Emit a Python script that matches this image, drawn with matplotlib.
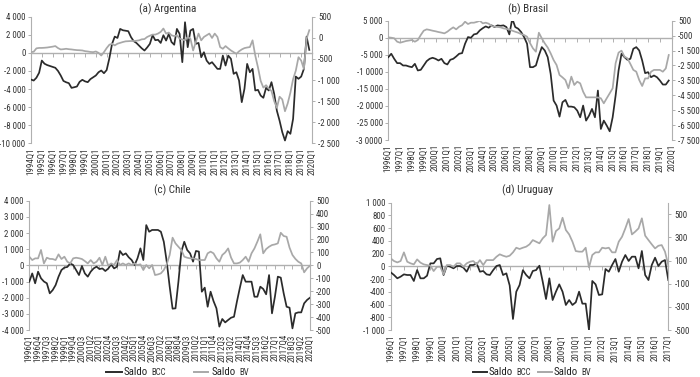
import matplotlib
matplotlib.use("Agg")
import matplotlib.pyplot as plt
from matplotlib import font_manager as fm
from matplotlib.lines import Line2D
from matplotlib.text import Annotation

# ---------------- data ----------------
# (a) Argentina 1994Q1 - 2019Q4
arg_bcc = [-2950, -3060, -2750, -2200, -850, -1200, -1350, -1450, -1550, -1650,
           -2000, -2500, -3100, -3250, -3350, -3870, -3800, -3720, -3200, -2980,
           -3150, -3240, -2900, -2700, -2500, -2140, -1950, -2250, -1900, -600,
           1000, 1800, 1650, 2650, 2500, 2450, 2400, 1750, 1300, 1100,
           800, 500, 260, 600, 1000, 1950, 1400, 1450, 1100, 1950,
           1360, 2100, 1200, 900, 2650, 2100, -1030, 3390, 630, 2470,
           2650, 1000, 1100, -480, 70, -850, -1220, -1030, -1400, -1770,
           -1770, -300, -1400, -300, -660, -2320, -2140, -3060, -5450, -3980,
           -1220, -2140, -1770, -4160, -4090, -4720, -4970, -3870, -4160, -3240,
           -4530, -6400, -7500, -8770, -9690, -8660, -8950, -7300, -2620, -2870,
           -2620, -1770, 1800, 330]
arg_bv = [-340, -330, -250, -240, -240, -236, -230, -220, -210, -196,
          -244, -276, -270, -260, -270, -276, -285, -292, -295, -300,
          -316, -324, -335, -340, -324, -356, -420, -340, -244, -164,
          -140, -180, -140, -120, -100, -84, -80, -76, -76, -70,
          -60, -36, -30, 20, 50, 76, 76, 100, 140, 220,
          100, 124, 60, 40, 60, -20, -40, -60, 20, -20,
          -300, -100, 100, -60, 20, 60, 100, -4, 100, 20,
          -220, -260, -196, -250, -300, -340, -380, -320, -276, -244,
          -230, -220, -60, -420, -700, -1020, -1180, -1124, -1200, -1260,
          -1500, -1660, -1396, -1460, -1740, -1556, -1300, -980, -780, -460,
          -540, -740, -20, 180]

# (b) Brasil 1996Q1 - 2019Q4
bra_bcc = [-5700, -4700, -6180, -7450, -7450, -8140, -8140, -8430, -8630, -7650,
           -9600, -9410, -8140, -6860, -6180, -5880, -6180, -6670, -6180, -7450,
           -7840, -6470, -6180, -5490, -4700, -4510, -1760, 200, 0, 980,
           1180, 2160, 2800, 3330, 2940, 3630, 3140, 3630, 3500, 3630,
           3140, 980, 5590, 3140, 2650, 1670, 200, -1760, -8630, -8630,
           -8140, -5200, -2750, -3730, -5690, -10590, -18430, -19900, -23140, -18920,
           -18240, -20200, -20200, -20390, -21370, -23330, -19900, -24310, -22840, -20880,
           -23330, -15490, -26760, -24310, -25780, -27450, -23330, -16960, -9610, -4700,
           -5690, -6470, -6180, -3240, -2750, -3730, -6670, -10390, -10100, -11570,
           -11080, -11570, -12550, -13730, -13730, -12550]
bra_bv = [-617, -640, -680, -908, -975, -920, -863, -830, -796, -908,
          -796, -460, -170, -80, -120, -170, -210, -260, -300, -349,
          -237, -80, 54, -80, 98, 200, 433, 277, 366, 366,
          420, 500, 321, 366, 300, 143, 98, 80, 54, -13,
          -50, -80, -170, -240, -304, -400, -460, -573, -1000, -1355,
          -1579, -305, -685, -1020, -1300, -1690, -2140, -2470, -3140, -3300,
          -3480, -4030, -3250, -3810, -3590, -3700, -4260, -4640, -4640, -4640,
          -4640, -4650, -4700, -5040, -4700, -4370, -4030, -2350, -1640, -1510,
          -1910, -2020, -2400, -2800, -2920, -3480, -3880, -3370, -3370, -2920,
          -2800, -2800, -2800, -2920, -2700, -1800]

# (c) Chile 1996Q1 - 2020Q1
chi_bcc = [-1010, -500, -1110, -390, -800, -1000, -1110, -1730, -1530, -1220,
           -700, -290, -140, -100, 120, 20, -290, -600, -40, -500,
           -700, -390, -190, -80, -230, -190, -350, -200, 60, -190,
           -80, 890, 640, 740, 500, 330, 20, 430, 1050, 330,
           2490, 2080, 2190, 2190, 2190, 2080, 1460, 230, -1300, -2680,
           -2660, -1010, 850, 1460, 950, 740, 230, 890, 850, -1630,
           -1380, -2560, -1630, -2210, -2660, -3790, -3320, -3530, -3380, -3240,
           -3180, -2250, -1400, -600, -1010, -1010, -1010, -1940, -1940, -1320,
           -1460, -1790, -600, -2970, -1940, -700, -760, -1730, -2560, -2620,
           -3900, -2970, -2910, -2910, -2350, -2140, -2000]
chi_bv = [67, 41, 54, 54, 119, 15, 59, 50, 49, 41,
          85, 49, 67, 28, 15, 54, 59, 55, 49, 33,
          15, 41, 15, 28, 59, 3, 67, -3, 15, 3,
          41, 3, 15, 3, 15, 3, 15, 3, 8, -36,
          3, -23, 3, -75, -70, -62, -36, 8, 80, 214,
          170, 144, 119, 67, 59, 54, 54, 49, 41, 41,
          41, 93, 106, 93, 54, 28, 80, 100, 131, 60,
          15, 15, 21, 41, 67, 28, 93, 131, 183, 240,
          93, 126, 144, 157, 162, 170, 252, 227, 221, 137,
          80, 50, 28, 15, -54, -23, -3]

# (d) Uruguay 1996Q1 - 2017Q1
uru_bcc = [-94, -136, -188, -162, -126, -136, -136, -230, -58, -188,
           -188, -147, 47, 47, 115, 126, -136, 10, -5, -31,
           5, 5, -21, -84, 21, 21, 47, -84, -73, -126,
           -136, -60, 5, 21, -136, -110, -300, -827, -398, -293,
           -60, -136, -188, -73, -58, 10, -241, -513, -188, -529,
           -398, -283, -398, -607, -529, -607, -565, -398, -586, -586,
           -1000, -230, -283, -450, -440, -42, -84, 21, 115, -84,
           73, 178, 84, 152, 152, -31, 241, -136, -215, 21,
           136, 5, 73, 99, -215]
uru_bv = [119, 96, 84, 96, 171, 90, 76, 67, 110, 82,
          67, 61, 56, 9, 46, 47, -19, 61, 61, 47,
          76, 76, 47, 76, 90, 96, 67, 104, 61, 104,
          104, 104, 133, 154, 142, 133, 142, 171, 211, 200,
          211, 220, 240, 277, 263, 249, 292, 321, 580, 263,
          355, 378, 470, 364, 326, 263, 182, 177, 177, 211,
          40, 148, 171, 171, 211, 205, 211, 171, 171, 263,
          306, 378, 459, 326, 350, 378, 465, 315, 277, 240,
          205, 228, 234, 177, 60]

# tick labels
arg_xlabels = [f"{y}Q1" for y in range(1994, 2021)]
bra_xlabels = [f"{y}Q1" for y in range(1996, 2021)]
chi_xlabels = [f"{1996 + i // 4}Q{i % 4 + 1}" for i in range(0, 97, 3)]
uru_xlabels = [f"{y}Q1" for y in range(1996, 2018)]

arg_lticks = [4000, 2000, 0, -2000, -4000, -6000, -8000, -10000]
arg_llabels = ["4 000", "2 000", "0", "-2 000", "-4 000", "-6 000", "-8 000", "-10 000"]
arg_rticks = [500, 0, -500, -1000, -1500, -2000, -2500]
arg_rlabels = ["500", "0", "-500", "-1 000", "-1 500", "-2 000", "-2 500"]

bra_lticks = [5000, 0, -5000, -10000, -15000, -20000, -25000, -30000]
bra_llabels = ["5 000", "0", "-5 000", "-1 0000", "-15 000", "-2 0000", "-25 000", "-3 0000"]
bra_rticks = [500, -500, -1500, -2500, -3500, -4500, -5500, -6500, -7500]
bra_rlabels = ["500", "-500", "-1 500", "-2 500", "-3 500", "-4 500", "-5 500", "-6 500", "-7 500"]

chi_lticks = [4000, 3000, 2000, 1000, 0, -1000, -2000, -3000, -4000]
chi_llabels = ["4 000", "3 000", "2 000", "1 000", "0", "-1 000", "-2 000", "-3 000", "-4 000"]
chi_rticks = [500, 400, 300, 200, 100, 0, -100, -200, -300, -400, -500]
chi_rlabels = ["500", "400", "300", "200", "100", "0", "-100", "-200", "-300", "-400", "-500"]

uru_lticks = [1000, 800, 600, 400, 200, 0, -200, -400, -600, -800, -1000]
uru_llabels = ["1 000", "800", "600", "400", "200", "0", "-200", "-400", "-600", "-800", "-1 000"]
uru_rticks = [500, 300, 100, -100, -300, -500]
uru_rlabels = ["500", "300", "100", "-100", "-300", "-500"]

titles = ["(a) Argentina", "(b) Brasil", "(c) Chile", "(d) Uruguay"]
legend_main = "Saldo"
legend_subs = ["BCC", "BV"]

# ---------------- style ----------------
W, H = 700, 377
BLACK = "#2b2b2b"
GRAY = "#a8a8a8"
AXC = "#b0b0b0"
TXT = "#333333"


def _find_narrow():
    entries = fm.fontManager.ttflist
    pref = ["Liberation Sans Narrow", "Roboto Condensed", "Open Sans Condensed",
            "Noto Sans Condensed", "DejaVu Sans Condensed", "Arial Narrow"]
    bad = ("Bold", "Italic", "Oblique", "Light", "Thin", "Black", "Medium", "Semi", "Extra")
    for p in pref:
        for f in entries:
            if f.name == p and f.style == "normal" and not any(b in f.fname for b in bad):
                return f.fname
    for f in entries:
        st = str(f.stretch)
        fn = f.fname.split("/")[-1]
        if ((st in ("condensed", "semi-condensed", "extra-condensed", "75", "87"))
                or "Condensed" in fn or "Narrow" in fn) and f.style == "normal" \
                and not any(b in fn for b in bad):
            return f.fname
    return None


_narrow = _find_narrow()
if _narrow:
    def FP(size):
        return fm.FontProperties(fname=_narrow, size=size)
    K = 1.0
else:
    def FP(size):
        return fm.FontProperties(family="Liberation Sans", size=size)
    K = 0.86

fig = plt.figure(figsize=(W / 100, H / 100), dpi=100)
fig.patch.set_facecolor("white")


def fx(px):
    return px / W


def fy(py):
    return 1 - py / H


TICK_FS = 6.4 * K


def panel(rect, bcc, bv, xlabels, step, xmax, lylim, lticks, llabels,
          rylim, rticks, rlabels, title, title_xy):
    l, t, r, b = rect
    ax = fig.add_axes([fx(l), fy(b), (r - l) / W, (b - t) / H])
    ax2 = ax.twinx()
    ax.plot(list(range(len(bcc))), bcc, color=BLACK, lw=1.25, zorder=3,
            solid_joinstyle="round")
    ax2.plot(list(range(len(bv))), bv, color=GRAY, lw=1.25,
             solid_joinstyle="round")

    ax.set_xlim(0, xmax)
    ax.set_ylim(*lylim)
    ax2.set_ylim(*rylim)

    xt = list(range(0, xmax + 1, step))
    ax.set_xticks(xt)
    ax.set_xticklabels(xlabels, rotation=90, fontproperties=FP(TICK_FS), color=TXT)
    ax.tick_params(axis="x", length=0, pad=3)

    ax.set_yticks(lticks)
    ax.set_yticklabels(llabels, fontproperties=FP(TICK_FS), color=TXT)
    ax.tick_params(axis="y", length=2.5, width=0.7, color=AXC, pad=1.5)
    ax2.set_yticks(rticks)
    ax2.set_yticklabels(rlabels, fontproperties=FP(TICK_FS), color=TXT)
    ax2.tick_params(axis="y", length=2.5, width=0.7, color=AXC, pad=2)

    for a in (ax, ax2):
        a.spines["top"].set_visible(False)
        a.spines["bottom"].set_visible(False)
    ax2.spines["left"].set_visible(False)
    ax.spines["right"].set_visible(False)
    ax.spines["left"].set_color(AXC)
    ax.spines["left"].set_linewidth(0.8)
    ax2.spines["right"].set_color(AXC)
    ax2.spines["right"].set_linewidth(0.8)

    # horizontal zero line with category ticks
    zfrac = (0 - lylim[0]) / (lylim[1] - lylim[0])
    sec = ax.secondary_xaxis(zfrac)
    sec.set_xticks(xt)
    sec.tick_params(axis="x", direction="in", length=3, width=0.7, color=AXC,
                    labeltop=False, labelbottom=False)
    for s in sec.spines.values():
        s.set_color(AXC)
        s.set_linewidth(1.0)

    fig.text(fx(title_xy[0]), fy(title_xy[1]), title, ha="center", va="center",
             fontproperties=FP(8 * K), color=TXT)
    return ax


panel((31, 16.7, 312, 143.3), arg_bcc, arg_bv, arg_xlabels, 4, 104,
      (-10000, 4000), arg_lticks, arg_llabels, (-2500, 500), arg_rticks, arg_rlabels,
      titles[0], (168, 9.5))
panel((388.3, 20.7, 671.7, 140), bra_bcc, bra_bv, bra_xlabels, 4, 96,
      (-30000, 5000), bra_lticks, bra_llabels, (-7500, 500), bra_rticks, bra_rlabels,
      titles[1], (528, 9.5))
panel((29.3, 200.7, 310, 330), chi_bcc, chi_bv, chi_xlabels, 3, 96,
      (-4000, 4000), chi_lticks, chi_llabels, (-500, 500), chi_rticks, chi_rlabels,
      titles[2], (172, 190))
panel((390.7, 202.7, 668.3, 330), uru_bcc, uru_bv, uru_xlabels, 4, 84,
      (-1000, 1000), uru_lticks, uru_llabels, (-500, 600), uru_rticks, uru_rlabels,
      titles[3], (527, 190))


# ---------------- legends ----------------
def legend_item(x0, x1, color, tx, sub, y=372.0):
    fig.add_artist(Line2D([fx(x0), fx(x1)], [fy(y), fy(y)], color=color, lw=1.4,
                          transform=fig.transFigure))
    t1 = fig.text(fx(tx), fy(y), legend_main, ha="left", va="center",
                  fontproperties=FP(7.8 * K), color="#222222")
    fig.add_artist(Annotation(
        sub, xy=(1, 0), xycoords=t1, xytext=(2, 0), textcoords="offset points",
        ha="left", va="bottom", fontproperties=FP(6.3 * K), color=TXT))


legend_item(106, 122, BLACK, 124, legend_subs[0])
legend_item(194, 208, GRAY, 212, legend_subs[1])
legend_item(473, 487, BLACK, 489, legend_subs[0])
legend_item(538, 552, GRAY, 554, legend_subs[1])

fig.savefig("out.png", dpi=100, facecolor="white")
